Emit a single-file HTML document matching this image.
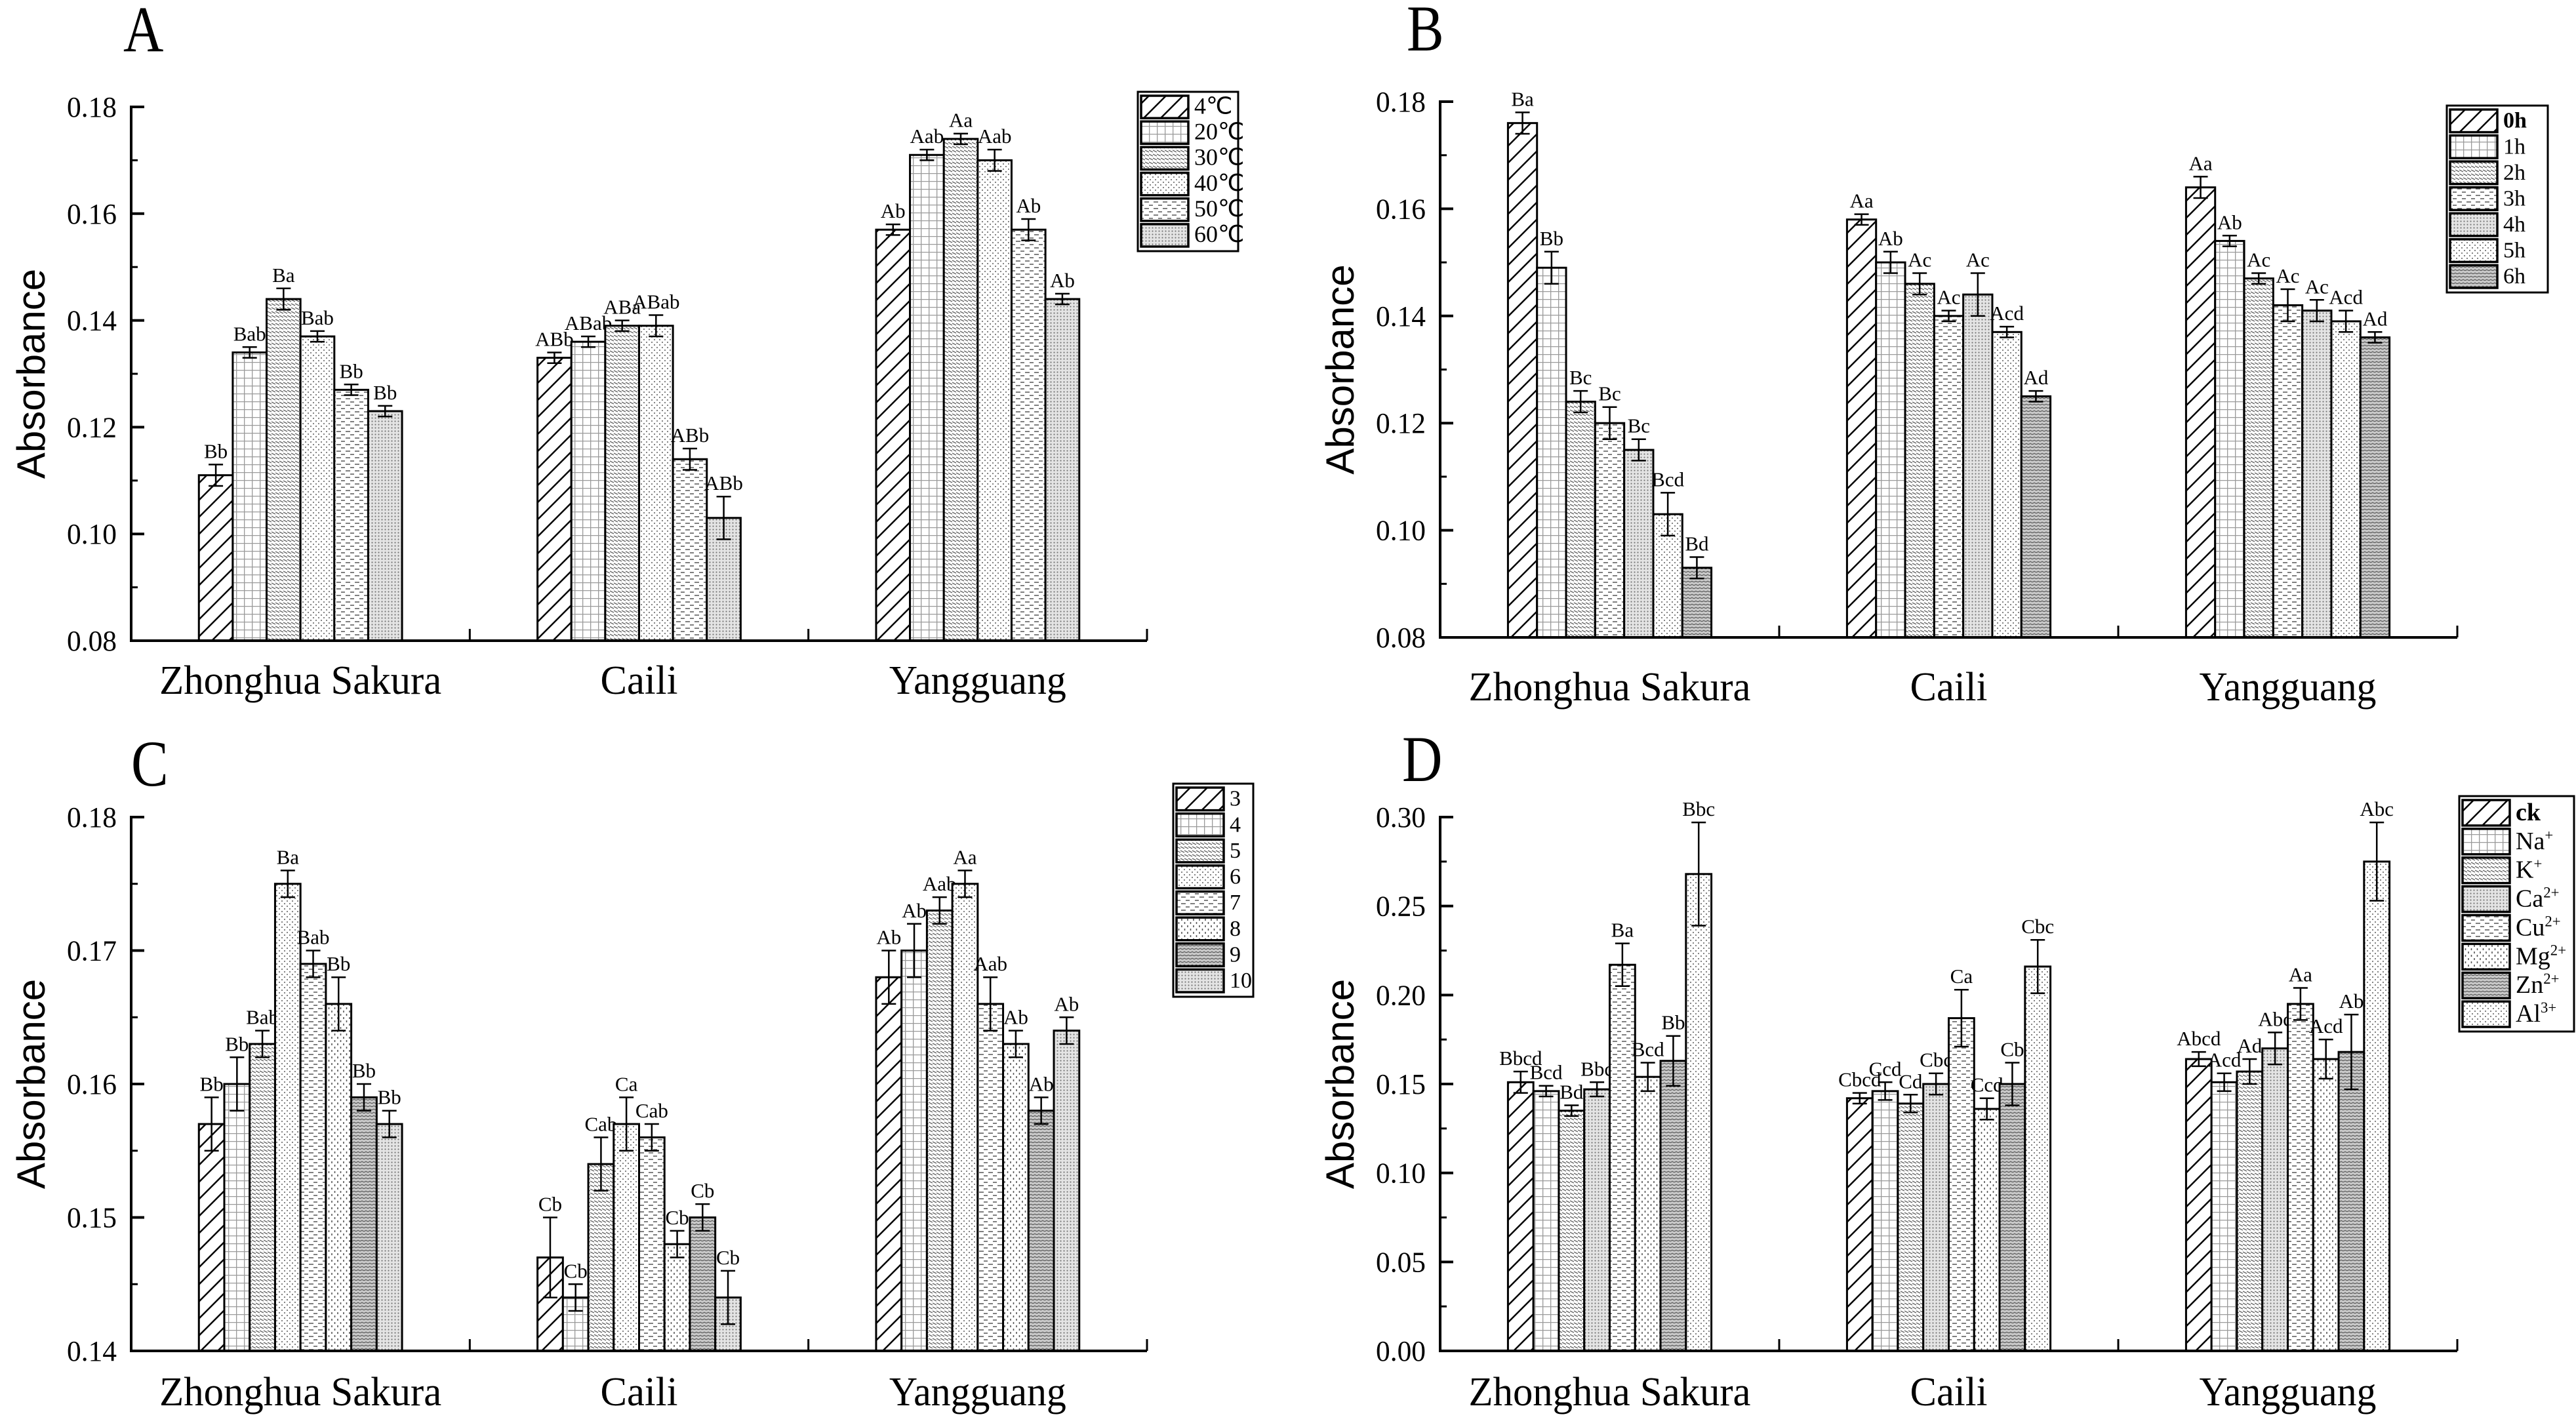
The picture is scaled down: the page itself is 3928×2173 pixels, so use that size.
<!DOCTYPE html>
<html><head><meta charset="utf-8"><style>
html,body{margin:0;padding:0;background:#fff;}
svg{display:block;font-family:"Liberation Serif",serif;}
</style></head><body>
<svg id="fig" width="3928" height="2173" viewBox="0 0 3928 2173" xmlns="http://www.w3.org/2000/svg">
<defs>
<pattern id="p0" patternUnits="userSpaceOnUse" width="26" height="26"><path d="M-4,30 L30,-4 M-4,4 L4,-4 M22,30 L30,22" stroke="#000" stroke-width="2.5"/></pattern>
<pattern id="p1" patternUnits="userSpaceOnUse" width="12" height="12"><rect width="12" height="12" fill="#fff"/><path d="M0,0.5 H12 M0.5,0 V12" stroke="#9a9a9a" stroke-width="1.6"/></pattern>
<pattern id="p2" patternUnits="userSpaceOnUse" width="6" height="6"><rect width="6" height="6" fill="#fff"/><path d="M0,1 L6,4" stroke="#666" stroke-width="1.4"/></pattern>
<pattern id="p3" patternUnits="userSpaceOnUse" width="5" height="5"><rect width="5" height="5" fill="#e4e4e4"/><circle cx="2.5" cy="2.5" r="1.1" fill="#777"/></pattern>
<pattern id="p4" patternUnits="userSpaceOnUse" width="14" height="10"><rect width="14" height="10" fill="#fff"/><path d="M2,3 H8 M9,8 H14 M0,8 H2" stroke="#555" stroke-width="1.6"/></pattern>
<pattern id="p5" patternUnits="userSpaceOnUse" width="9" height="10"><rect width="9" height="10" fill="#fff"/><path d="M2,1 V4 M6.5,6 V9" stroke="#555" stroke-width="1.6"/></pattern>
<pattern id="p6" patternUnits="userSpaceOnUse" width="6" height="5"><rect width="6" height="5" fill="#c8c8c8"/><path d="M0,1 Q3,4 6,1" stroke="#555" stroke-width="1.1" fill="none"/></pattern>
<pattern id="p7" patternUnits="userSpaceOnUse" width="8" height="8"><rect width="8" height="8" fill="#fff"/><circle cx="2" cy="2" r="1.1" fill="#777"/><circle cx="6" cy="6" r="1.1" fill="#777"/></pattern>
</defs>
</svg>
<script>
var categories = ["Zhonghua Sakura", "Caili", "Yangguang"];

var seriesA = ["4℃","20℃","30℃","40℃","50℃","60℃"];
var valuesA = [[0.111,0.133,0.157],[0.134,0.136,0.171],[0.144,0.139,0.174],[0.137,0.139,0.170],[0.127,0.114,0.157],[0.123,0.103,0.144]];
var errorsA = [[0.002,0.001,0.001],[0.001,0.001,0.001],[0.002,0.001,0.001],[0.001,0.002,0.002],[0.001,0.002,0.002],[0.001,0.004,0.001]];
var lettersA = [["Bb","ABb","Ab"],["Bab","ABab","Aab"],["Ba","ABa","Aa"],["Bab","ABab","Aab"],["Bb","ABb","Ab"],["Bb","ABb","Ab"]];
var ticksA = ["0.08","0.10","0.12","0.14","0.16","0.18"];

var seriesB = ["0h","1h","2h","3h","4h","5h","6h"];
var valuesB = [[0.176,0.158,0.164],[0.149,0.150,0.154],[0.124,0.146,0.147],[0.120,0.140,0.142],[0.115,0.144,0.141],[0.103,0.137,0.139],[0.093,0.125,0.136]];
var errorsB = [[0.002,0.001,0.002],[0.003,0.002,0.001],[0.002,0.002,0.001],[0.003,0.001,0.003],[0.002,0.004,0.002],[0.004,0.001,0.002],[0.002,0.001,0.001]];
var lettersB = [["Ba","Aa","Aa"],["Bb","Ab","Ab"],["Bc","Ac","Ac"],["Bc","Ac","Ac"],["Bc","Ac","Ac"],["Bcd","Acd","Acd"],["Bd","Ad","Ad"]];
var ticksB = ["0.08","0.10","0.12","0.14","0.16","0.18"];

var seriesC = ["3","4","5","6","7","8","9","10"];
var valuesC = [[0.157,0.147,0.168],[0.160,0.144,0.170],[0.163,0.154,0.173],[0.175,0.157,0.175],[0.169,0.156,0.166],[0.166,0.148,0.163],[0.159,0.150,0.158],[0.157,0.144,0.164]];
var errorsC = [[0.002,0.003,0.002],[0.002,0.001,0.002],[0.001,0.002,0.001],[0.001,0.002,0.001],[0.001,0.001,0.002],[0.002,0.001,0.001],[0.001,0.001,0.001],[0.001,0.002,0.001]];
var lettersC = [["Bb","Cb","Ab"],["Bb","Cb","Ab"],["Bab","Cab","Aab"],["Ba","Ca","Aa"],["Bab","Cab","Aab"],["Bb","Cb","Ab"],["Bb","Cb","Ab"],["Bb","Cb","Ab"]];
var ticksC = ["0.14","0.15","0.16","0.17","0.18"];

var seriesD = [["ck",""],["Na","+"],["K","+"],["Ca","2+"],["Cu","2+"],["Mg","2+"],["Zn","2+"],["Al","3+"]];
var valuesD = [[0.151,0.142,0.164],[0.146,0.146,0.151],[0.135,0.139,0.157],[0.147,0.150,0.170],[0.217,0.187,0.195],[0.154,0.136,0.164],[0.163,0.150,0.168],[0.268,0.216,0.275]];
var errorsD = [[0.006,0.003,0.004],[0.003,0.005,0.005],[0.003,0.005,0.007],[0.004,0.006,0.009],[0.012,0.016,0.009],[0.008,0.006,0.011],[0.014,0.012,0.021],[0.029,0.015,0.022]];
var lettersD = [["Bbcd","Cbcd","Abcd"],["Bcd","Ccd","Acd"],["Bd","Cd","Ad"],["Bbc","Cbc","Abc"],["Ba","Ca","Aa"],["Bcd","Ccd","Acd"],["Bb","Cb","Ab"],["Bbc","Cbc","Abc"]];
var ticksD = ["0.00","0.05","0.10","0.15","0.20","0.25","0.30"];

var NS = "http://www.w3.org/2000/svg";
var svg = document.getElementById("fig");
function mk(tag, attrs, parent, txt) {
  var e = document.createElementNS(NS, tag);
  for (var k in attrs) e.setAttribute(k, attrs[k]);
  if (txt !== undefined) e.textContent = txt;
  (parent || svg).appendChild(e);
  return e;
}

function panel(o) {
  var g = mk("g", {});
  
  
  var x0 = o.x0, x1 = o.x1, yT = o.yT, yB = o.yB;
  var ymin = parseFloat(o.ticks[0]), ymax = parseFloat(o.ticks[o.ticks.length - 1]);
  function Y(v) { return yB - (v - ymin) / (ymax - ymin) * (yB - yT); }
  var cw = (x1 - x0) / categories.length;
  function CX(i) { return x0 + cw * (i + 0.5); }
  var ns = o.values.length, gw = cw * 0.6, bw = gw / ns;

  var t = mk("text", {x: o.lx, y: o.ly, "font-size": 100, transform: "translate(" + o.lx + ",0) scale(0.85,1) translate(" + (-o.lx) + ",0)"}, g, o.letter);
  
  

  for (var s = 0; s < ns; s++) {
    for (var c = 0; c < categories.length; c++) {
      var v = o.values[s][c], e = o.errors[s][c];
      var bx = CX(c) - gw / 2 + s * bw;
      var by = Y(v);
      var r = mk("rect", {x: bx, y: by, width: bw, height: yB - by, fill: "url(#p" + o.pat[s] + ")", stroke: "#000", "stroke-width": 3}, g);
      
      
      var mx = bx + bw / 2, yh = Y(v + e), yl = Y(v - e);
      var eb = mk("path", {d: "M" + mx + "," + yh + " V" + yl + " M" + (mx - 11) + "," + yh + " H" + (mx + 11) + " M" + (mx - 11) + "," + yl + " H" + (mx + 11), stroke: "#000", "stroke-width": 2.5, fill: "none"}, g);
      
      
      var lt = mk("text", {x: mx, y: yh - 10, "font-size": 31, "text-anchor": "middle"}, g, o.letters[s][c]);
      
      
    }
  }
  var ax = mk("path", {d: "M" + x0 + "," + (yT - 2) + " V" + yB + " H" + x1, stroke: "#000", "stroke-width": 4, fill: "none"}, g);
  
  
  for (var i = 1; i < categories.length; i++) {
    var xt = x0 + cw * i;
    mk("line", {x1: xt, x2: xt, y1: yB, y2: yB - 18, stroke: "#000", "stroke-width": 3}, g);
  }
  mk("line", {x1: x1, x2: x1, y1: yB, y2: yB - 18, stroke: "#000", "stroke-width": 3}, g);
  var nt = o.ticks.length;
  for (var k = 0; k < nt; k++) {
    var yy = yT + (yB - yT) * (nt - 1 - k) / (nt - 1);
    mk("line", {x1: x0, x2: x0 + 20, y1: yy, y2: yy, stroke: "#000", "stroke-width": 4}, g);
    if (k < nt - 1) {
      var ym = yy - (yB - yT) / (nt - 1) / 2;
      mk("line", {x1: x0, x2: x0 + 10, y1: ym, y2: ym, stroke: "#000", "stroke-width": 3}, g);
    }
    var tl = mk("text", {x: x0 - 22, y: yy + 15, "font-size": 44, "text-anchor": "end", textLength: 76, lengthAdjust: "spacingAndGlyphs"}, g, o.ticks[k]);
    
    
  }
  var catLen = [430, 118, 270];
  for (var c2 = 0; c2 < categories.length; c2++) {
    var cl = mk("text", {x: CX(c2), y: o.catY, "font-size": 62, "text-anchor": "middle", textLength: catLen[c2], lengthAdjust: "spacingAndGlyphs"}, g, categories[c2]);
    
    
  }
  var yl2 = mk("text", {x: 0, y: 0, "font-size": 60, "text-anchor": "middle", "font-family": "Liberation Sans, sans-serif", transform: "translate(" + (x0 - 132) + "," + ((yT + yB) / 2) + ") rotate(-90)"}, g, "Absorbance");
  
  

  var L = o.legend;
  var lg = mk("g", {}, g);
  
  
  mk("rect", {x: L.x, y: L.y, width: L.w, height: L.h, fill: "#fff", stroke: "#000", "stroke-width": 3}, lg);
  var rh = (L.h - 8) / ns;
  for (var s2 = 0; s2 < ns; s2++) {
    var ry = L.y + 4 + rh * s2;
    var sw = mk("rect", {x: L.x + 5, y: ry + 2, width: 72, height: rh - 5, fill: "url(#p" + o.pat[s2] + ")", stroke: "#000", "stroke-width": 3.5}, lg);
    
    
    var lab = o.series[s2];
    var tx = mk("text", {x: L.x + 86, y: ry + rh * 0.75, "font-size": L.fs}, lg);
    
    
    if (typeof lab === "string") { tx.textContent = lab; if (s2 === 0 && o.boldFirst) tx.setAttribute("font-weight", "bold"); }
    else {
      mk("tspan", {}, tx, lab[0]);
      if (lab[1]) mk("tspan", {dy: -14, "font-size": L.fs * 0.6}, tx, lab[1]);
      if (s2 === 0) tx.setAttribute("font-weight", "bold");
    }
  }
}

panel({letter: "A", lx: 188, ly: 78, x0: 200, x1: 1749, yT: 163, yB: 977, catY: 1058, ticks: ticksA,
  values: valuesA, errors: errorsA, letters: lettersA, series: seriesA, pat: [0,1,2,7,4,3],
  legend: {x: 1735, y: 140, w: 153, h: 243, fs: 36}});
panel({letter: "B", lx: 2145, ly: 77, x0: 2196, x1: 3747, yT: 155, yB: 972, catY: 1068, ticks: ticksB,
  values: valuesB, errors: errorsB, letters: lettersB, series: seriesB, pat: [0,1,2,4,3,7,6], boldFirst: true,
  legend: {x: 3731, y: 161, w: 154, h: 285, fs: 34}});
panel({letter: "C", lx: 200, ly: 1198, x0: 200, x1: 1749, yT: 1246, yB: 2060, catY: 2143, ticks: ticksC,
  values: valuesC, errors: errorsC, letters: lettersC, series: seriesC, pat: [0,1,2,7,4,5,6,3],
  legend: {x: 1789, y: 1195, w: 122, h: 325, fs: 34}});
panel({letter: "D", lx: 2138, ly: 1191, x0: 2196, x1: 3747, yT: 1246, yB: 2060, catY: 2143, ticks: ticksD,
  values: valuesD, errors: errorsD, letters: lettersD, series: seriesD, pat: [0,1,2,3,4,5,6,7],
  legend: {x: 3750, y: 1214, w: 175, h: 359, fs: 38}});
</script>
</body></html>
